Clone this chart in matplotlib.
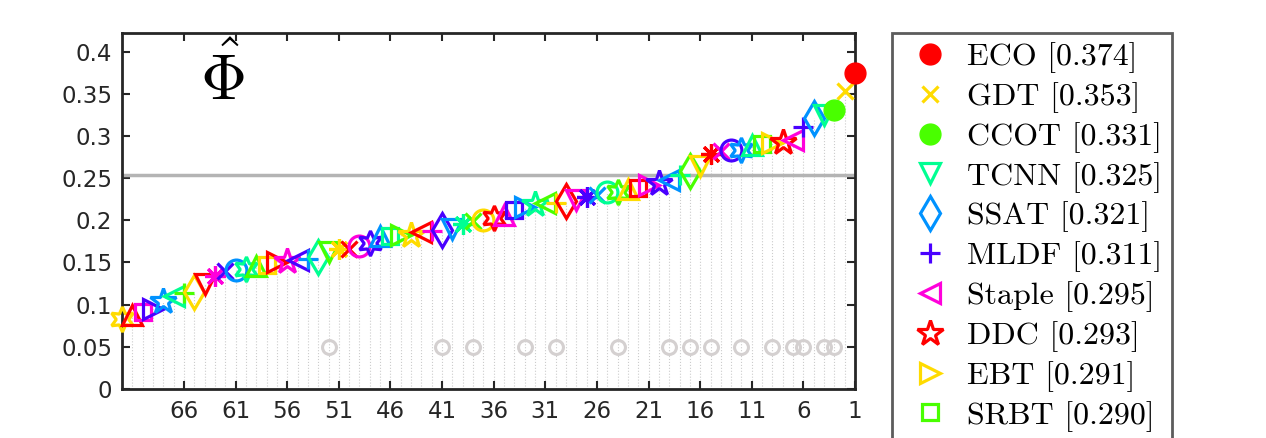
import colorsys
import matplotlib
matplotlib.use('Agg')
import matplotlib.pyplot as plt
from matplotlib.ticker import FormatStrFormatter

plt.rcParams['mathtext.fontset'] = 'cm'

# expected average overlap, index 0 = rank 1
eao = [0.374, 0.353, 0.331, 0.325, 0.321, 0.311, 0.295, 0.293, 0.291, 0.290,
       0.289, 0.283, 0.283, 0.282, 0.279, 0.264, 0.258, 0.254, 0.248, 0.244,
       0.242, 0.238, 0.237, 0.234, 0.233, 0.230, 0.228, 0.224, 0.223, 0.221,
       0.220, 0.219, 0.216, 0.212, 0.206, 0.203, 0.200, 0.199, 0.196, 0.190,
       0.189, 0.187, 0.186, 0.183, 0.183, 0.181, 0.181, 0.173, 0.169, 0.166,
       0.166, 0.162, 0.156, 0.154, 0.153, 0.152, 0.151, 0.147, 0.146, 0.142,
       0.141, 0.140, 0.134, 0.124, 0.115, 0.114, 0.110, 0.104, 0.095, 0.091,
       0.088, 0.083]
top_names = ['ECO', 'GDT', 'CCOT', 'TCNN', 'SSAT', 'MLDF', 'Staple', 'DDC', 'EBT', 'SRBT']
published_ranks = [52, 41, 38, 33, 30, 24, 19, 17, 15, 12, 9, 7, 6, 4, 3]
sota_bound = 0.254
x_ticks = [66, 61, 56, 51, 46, 41, 36, 31, 26, 21, 16, 11, 6, 1]
y_ticks = [0, 0.05, 0.1, 0.15, 0.2, 0.25, 0.3, 0.35, 0.4]

# matlab-like markers: o x * v d + < p > s ^ h
markers = ['o', 'x', (8, 2, 0), 'v', 'd', '+', '<', '*', '>', 's', '^', (6, 1, 0)]
msizes = [15, 12, 15, 15, 17, 14, 15, 19, 15, 12, 15, 18]
filled = {1: 'o', 3: 'o'}
colors = [colorsys.hsv_to_rgb(i / 7.0, 1, 1) for i in range(7)]
n = len(eao)
ranks = list(range(1, n + 1))

fig = plt.figure(figsize=(12.66, 4.38), dpi=100)
ax = fig.add_axes([0.0964, 0.1119, 0.5790, 0.8128])

ax.vlines(ranks, 0, eao, colors='#cccccc', linestyles=':', linewidth=0.8, zorder=1)
ax.axhline(sota_bound, color='#b4b4b4', linewidth=2.5, zorder=2)

handles = {}
for r in reversed(ranks):
    c = colors[(r - 1) % 7]
    m = markers[(r - 1) % 12]
    ms = msizes[(r - 1) % 12]
    if r in filled:
        h, = ax.plot(r, eao[r - 1], marker='o', ms=15, color=c, mfc=c, mec=c,
                     linestyle='none', clip_on=False, zorder=4)
    else:
        h, = ax.plot(r, eao[r - 1], marker=m, ms=ms, color=c, mfc='none', mec=c,
                     mew=2.3, linestyle='none', clip_on=False, zorder=3)
    handles[r] = h

ax.plot(published_ranks, [0.05] * len(published_ranks), 'o', ms=10, mfc='none',
        mec='#d4d0d0', mew=2.2, linestyle='none', zorder=2)

ax.text(62.3, 0.3666, r'$\hat{\Phi}$', fontsize=46, ha='center', va='center')

ax.set_xlim(72, 1)
ax.set_ylim(0, 0.422)
ax.set_xticks(x_ticks)
ax.set_yticks(y_ticks)
ax.yaxis.set_major_formatter(FormatStrFormatter('%g'))
ax.tick_params(direction='in', length=6, width=1.5, top=True, right=True,
               labelsize=16.5, colors='#262626')
ax.tick_params(axis='x', pad=8)
ax.tick_params(axis='y', pad=7)
for s in ax.spines.values():
    s.set_linewidth(2)
    s.set_color('#262626')

labels = ['%s [%.3f]' % (top_names[i], eao[i]) for i in range(len(top_names))]
leg = fig.legend([handles[i + 1] for i in range(len(top_names))], labels,
                 loc='upper left', bbox_to_anchor=(891.7 / 1266, 1 - 32.7 / 438),
                 borderaxespad=0, prop={'family': 'cmr10', 'size': 23},
                 handlelength=1.81, handletextpad=0.26, borderpad=0.3,
                 labelspacing=0.28, fancybox=False, numpoints=1)
leg.get_frame().set_edgecolor('#333333')
leg.get_frame().set_linewidth(2)

fig.savefig('out.png', dpi=100)
